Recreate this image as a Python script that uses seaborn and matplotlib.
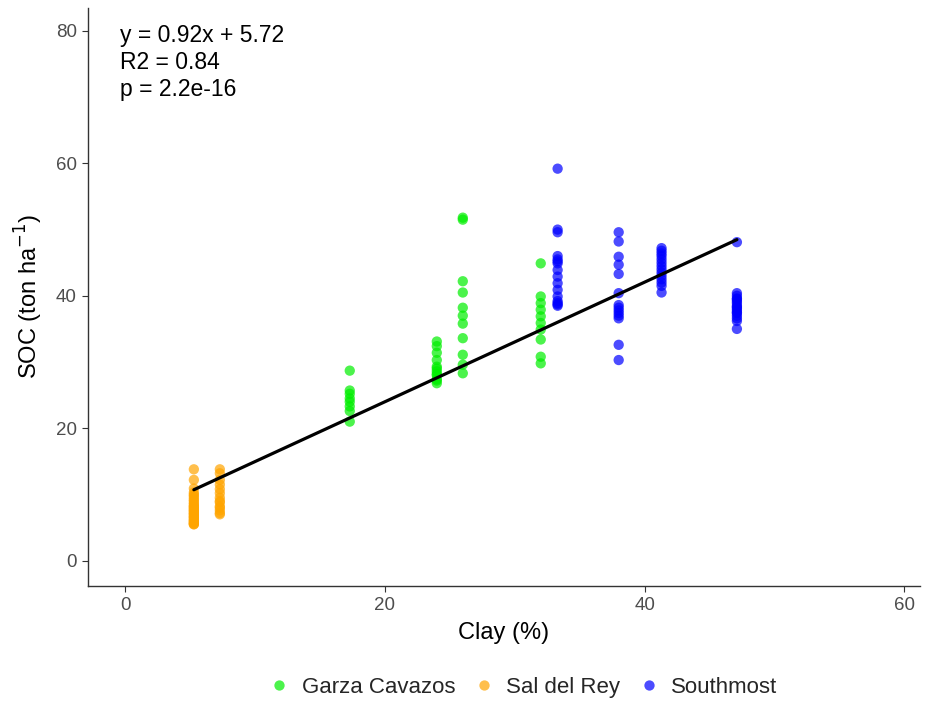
import matplotlib
matplotlib.use("Agg")
import matplotlib.pyplot as plt
import seaborn as sns
import pandas as pd

# --- data (overlapping points included) ---
sal_x1 = 5.3
sal_y1 = [13.8, 12.2, 10.9, 10.3, 9.8, 9.2, 8.7, 8.2, 7.7, 7.2, 6.7, 6.2, 5.8, 5.5,
          5.6, 6.0, 6.5, 7.0, 7.5, 8.0, 8.5, 9.0, 9.5, 10.0,
          5.5, 5.8, 6.2, 6.6, 7.0, 7.4, 7.8, 8.2]
sal_x2 = 7.3
sal_y2 = [13.8, 13.2, 12.2, 11.5, 10.8, 10.2, 9.5, 8.8, 8.2, 7.6, 7.0, 7.2, 8.0, 9.0]

garza_x1 = 17.3
garza_y1 = [28.7, 25.7, 25.2, 24.5, 24.0, 23.3, 22.6, 21.0]
garza_x2 = 24.0
garza_y2 = [33.1, 32.4, 31.4, 30.3, 29.3, 28.6, 28.0, 27.4, 26.8, 27.2, 28.2, 29.0]
garza_x3 = 26.0
garza_y3 = [51.8, 51.5, 42.2, 40.5, 38.2, 37.0, 35.8, 33.6, 31.1, 29.6, 28.3]
garza_x4 = 32.0
garza_y4 = [44.9, 39.9, 38.9, 37.9, 36.9, 35.9, 34.9, 33.4, 30.8, 29.8]

south_x1 = 33.3
south_y1 = [59.2, 50.0, 49.6, 46.0, 45.5, 44.9, 43.9, 42.9, 41.9, 40.9, 39.9, 38.9, 38.5,
            45.2, 39.2, 38.7]
south_x2 = 38.0
south_y2 = [49.6, 48.2, 45.9, 44.7, 43.3, 40.4, 38.6, 37.4, 36.6, 32.6, 30.3, 37.0, 37.8, 38.2]
south_x3 = 41.3
south_y3 = [47.2, 46.8, 46.4, 45.5, 44.5, 43.5, 42.5, 41.5, 40.5, 42.0, 43.0, 44.0, 45.0, 46.0]
south_x4 = 47.1
south_y4 = [48.1, 40.4, 39.6, 38.9, 38.1, 37.4, 36.6, 35.0, 37.0, 37.8, 38.5, 39.2, 40.0, 36.2,
            37.5, 38.3, 39.5]

sites = ["Garza Cavazos", "Sal del Rey", "Southmost"]
colors = ["#00EE00", "#FFA500", "#0000FF"]

x_ticks = [0, 20, 40, 60]
y_ticks = [0, 20, 40, 60, 80]

annotation = "y = 0.92x + 5.72\nR2 = 0.84\np = 2.2e-16"

rows = []
for site, groups in [
    ("Garza Cavazos", [(garza_x1, garza_y1), (garza_x2, garza_y2), (garza_x3, garza_y3), (garza_x4, garza_y4)]),
    ("Sal del Rey", [(sal_x1, sal_y1), (sal_x2, sal_y2)]),
    ("Southmost", [(south_x1, south_y1), (south_x2, south_y2), (south_x3, south_y3), (south_x4, south_y4)]),
]:
    for gx, gys in groups:
        for gy in gys:
            rows.append({"Clay": gx, "SOC": gy, "Site": site})
df = pd.DataFrame(rows)

sns.set_style("white")
plt.rcParams['font.family'] = ['Liberation Sans', 'DejaVu Sans']

fig = plt.figure(figsize=(9.36, 7.05), dpi=100)
ax = fig.add_axes([0.094, 0.169, 0.889, 0.820])

sns.scatterplot(data=df, x="Clay", y="SOC", hue="Site", hue_order=sites,
                palette=dict(zip(sites, colors)), alpha=0.7, s=55,
                edgecolor="none", linewidth=0, ax=ax, zorder=2)
sns.regplot(data=df, x="Clay", y="SOC", scatter=False, ci=None,
            line_kws=dict(color="black", linewidth=2.3, zorder=3), ax=ax, truncate=True)

ax.set_xlim(-2.85, 61.2)
ax.set_ylim(-3.8, 83.5)
ax.set_xticks(x_ticks)
ax.set_yticks(y_ticks)
ax.tick_params(axis="both", which="both", direction="out", length=4, width=0.8,
               color="#333333", labelcolor="#4D4D4D", labelsize=13.5,
               bottom=True, left=True, pad=4)
for side in ["top", "right"]:
    ax.spines[side].set_visible(False)
for side in ["left", "bottom"]:
    ax.spines[side].set_color("#333333")
    ax.spines[side].set_linewidth(1.0)

ax.set_xlabel("Clay (%)", fontsize=17, color="black", labelpad=6)
ax.set_ylabel("SOC (ton ha$^{-1}$)", fontsize=17, color="black", labelpad=8)

ax.text(-0.4, 81.0, annotation, fontsize=16.5, va="top", ha="left",
        linespacing=1.2, color="black")

handles, labels = ax.get_legend_handles_labels()
ax.legend(handles, labels, loc="center", bbox_to_anchor=(0.52, -0.176),
          ncol=3, frameon=False, fontsize=16, markerscale=1.0,
          handlelength=1.4, handletextpad=0.3, columnspacing=0.6, title=None)

fig.savefig("out.png", dpi=100)
